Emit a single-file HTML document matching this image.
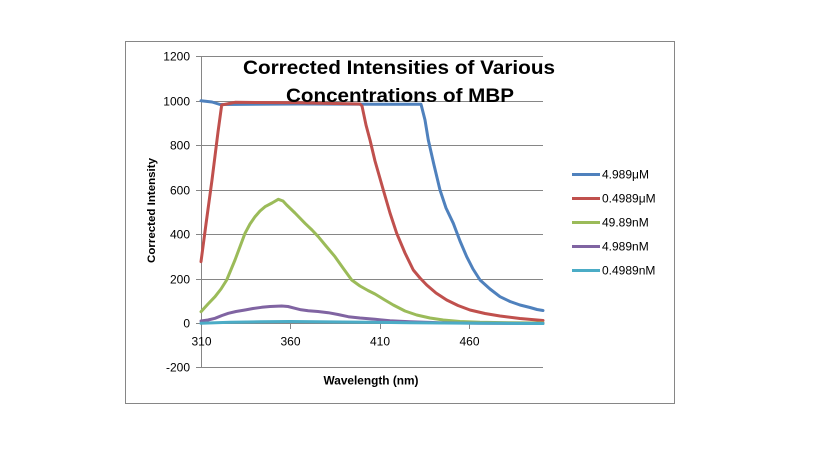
<!DOCTYPE html>
<html><head><meta charset="utf-8"><style>
html,body{margin:0;padding:0;background:#fff;}
svg{display:block;}
text{font-family:"Liberation Sans",Arial,sans-serif;}
</style></head><body>
<svg width="819" height="460" viewBox="0 0 819 460" xmlns="http://www.w3.org/2000/svg">
<rect x="0" y="0" width="819" height="460" fill="#fff"/>
<rect x="125.5" y="41.5" width="549" height="362" fill="#fff" stroke="#868686" stroke-width="1"/>
<!-- gridlines -->
<g stroke="#868686" stroke-width="1">
<line x1="201" y1="56.5" x2="543" y2="56.5"/>
<line x1="201" y1="101.5" x2="543" y2="101.5"/>
<line x1="201" y1="145.5" x2="543" y2="145.5"/>
<line x1="201" y1="190.5" x2="543" y2="190.5"/>
<line x1="201" y1="234.5" x2="543" y2="234.5"/>
<line x1="201" y1="279.5" x2="543" y2="279.5"/>
<line x1="201" y1="367.5" x2="543" y2="367.5"/>
<line x1="201" y1="323.5" x2="543" y2="323.5"/>
<line x1="201.5" y1="56" x2="201.5" y2="368"/>
<!-- y ticks -->
<line x1="196" y1="56.5" x2="201" y2="56.5"/>
<line x1="196" y1="101.5" x2="201" y2="101.5"/>
<line x1="196" y1="145.5" x2="201" y2="145.5"/>
<line x1="196" y1="190.5" x2="201" y2="190.5"/>
<line x1="196" y1="234.5" x2="201" y2="234.5"/>
<line x1="196" y1="279.5" x2="201" y2="279.5"/>
<line x1="196" y1="323.5" x2="201" y2="323.5"/>
<line x1="196" y1="367.5" x2="201" y2="367.5"/>
<!-- x ticks -->
<line x1="201.5" y1="323" x2="201.5" y2="329"/>
<line x1="290.5" y1="323" x2="290.5" y2="329"/>
<line x1="380.5" y1="323" x2="380.5" y2="329"/>
<line x1="469.5" y1="323" x2="469.5" y2="329"/>
</g>
<!-- y labels -->
<g font-size="12" fill="#000" text-anchor="end">
<text x="190" y="60.5">1200</text>
<text x="190" y="105.5">1000</text>
<text x="190" y="149.5">800</text>
<text x="190" y="194.5">600</text>
<text x="190" y="238.5">400</text>
<text x="190" y="283.5">200</text>
<text x="190" y="327.5">0</text>
<text x="190" y="371.5">-200</text>
</g>
<!-- x labels -->
<g font-size="12" fill="#000" text-anchor="middle">
<text x="201.5" y="345.5">310</text>
<text x="290.5" y="345.5">360</text>
<text x="380" y="345.5">410</text>
<text x="469.5" y="345.5">460</text>
</g>
<text x="371" y="384.5" font-size="12" font-weight="bold" text-anchor="middle" textLength="95" lengthAdjust="spacingAndGlyphs">Wavelength (nm)</text>
<text transform="translate(155,210.5) rotate(-90)" font-size="11" font-weight="bold" text-anchor="middle" textLength="105" lengthAdjust="spacingAndGlyphs">Corrected Intensity</text>
<!-- series -->
<g fill="none" stroke-width="3" stroke-linejoin="round" stroke-linecap="round">
<polyline stroke="#4F81BD" points="201,100.7 212,102 220,104.5 300,104 421,104.3 425,120 428.3,140 434,165 440,190 446,208 453.3,223.3 460,241 466.7,256.7 473,269 480,280 490,289 500,296.7 510,301.5 520,305 530,307.5 537,309.5 543,310.5"/>
<polyline stroke="#C0504D" points="201,261.7 206,224 212,180 218,132 221.7,105 235,102.3 300,102.8 360,104 362,106 366,125 370,140 375,161 383.3,190 390,213 396.7,233.3 405,253 413.3,270 420,278 426.7,285 436,293 446.7,300 458,305.5 470,310 485,313.5 500,316 520,318.5 543,320.5"/>
<polyline stroke="#9BBB59" points="201,311.7 208,304 215,296.7 221,289 226.7,280 235,260 245,233.3 250,224 255,216.7 260,211 265,206.7 272,203 278.3,199.3 283,201 286.7,205 295,213 305,223.3 312,230 318.3,236.7 326,246 335,256.7 343,268 351.7,280 360,286 368,290.5 375,294 384,299.5 393.3,305 405,311 416.7,315 430,318 443.3,320 460,321.5 480,322.3 510,322.8 543,323"/>
<polyline stroke="#8064A2" points="201,321 208,320 215,318.3 222,315.5 228.3,313.3 236,311.5 245,310 253,308.5 261.7,307.3 270,306.5 281.7,306 288,306.5 295,308.3 301,309.8 308.3,310.7 318,311.5 328.3,312.7 338,314.5 348.3,316.7 360,318 375,319.3 390,320.8 410,321.8 440,322.8 480,323.3 543,323.5"/>
<polyline stroke="#4BACC6" points="201,323.3 230,322.3 260,321.8 290,321.5 330,321.9 370,322.3 410,322.7 460,323.1 500,323.3 543,323.5"/>
</g>
<!-- title -->
<g font-size="19" font-weight="bold" fill="#000" text-anchor="middle">
<text x="399" y="74" textLength="312" lengthAdjust="spacingAndGlyphs">Corrected Intensities of Various</text>
<text x="400" y="102" textLength="228" lengthAdjust="spacingAndGlyphs">Concentrations of MBP</text>
</g>
<!-- legend -->
<g stroke-width="3" stroke-linecap="butt">
<line x1="572" y1="174.5" x2="600" y2="174.5" stroke="#4F81BD"/>
<line x1="572" y1="198.5" x2="600" y2="198.5" stroke="#C0504D"/>
<line x1="572" y1="222.5" x2="600" y2="222.5" stroke="#9BBB59"/>
<line x1="572" y1="246.5" x2="600" y2="246.5" stroke="#8064A2"/>
<line x1="572" y1="270.5" x2="600" y2="270.5" stroke="#4BACC6"/>
</g>
<g font-size="12" fill="#000">
<text x="602" y="178.5">4.989μM</text>
<text x="602" y="202.5">0.4989μM</text>
<text x="602" y="226.5">49.89nM</text>
<text x="602" y="250.5">4.989nM</text>
<text x="602" y="274.5">0.4989nM</text>
</g>
</svg>
</body></html>
